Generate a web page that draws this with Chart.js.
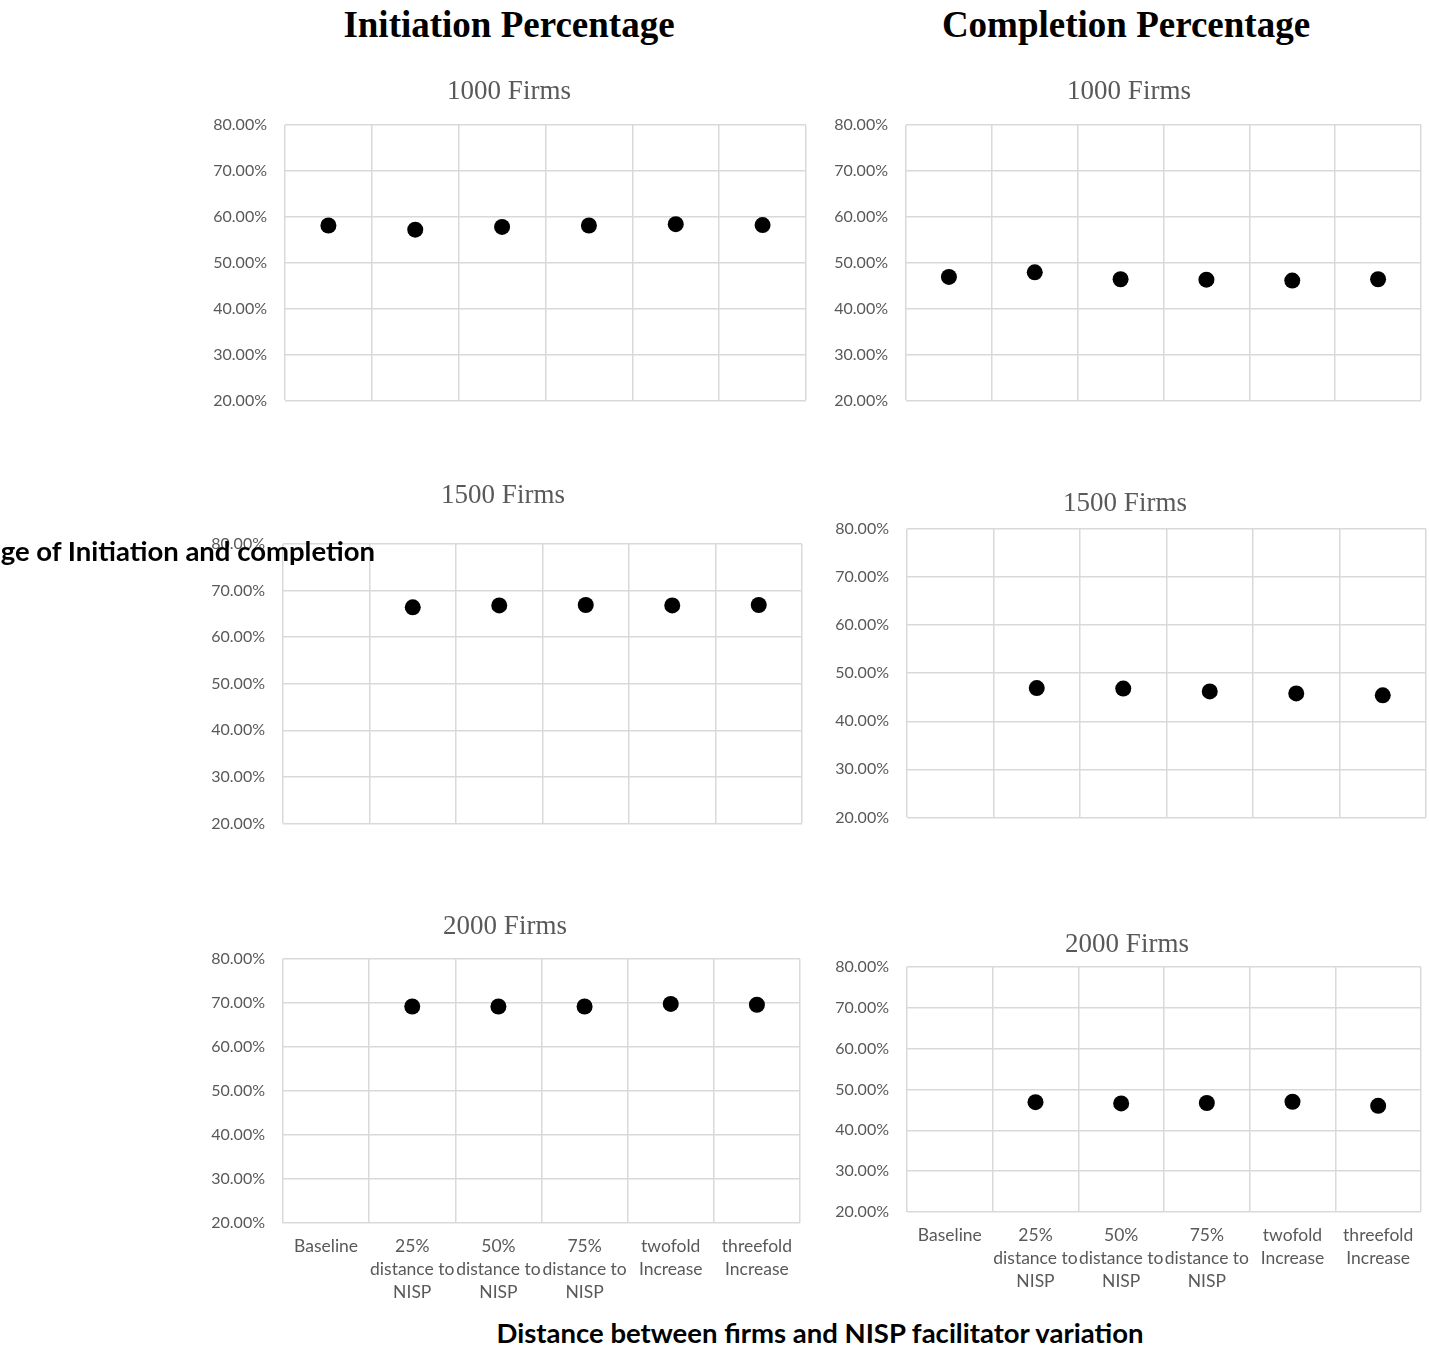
<!DOCTYPE html>
<html>
<head>
<meta charset="utf-8">
<script src="https://cdn.jsdelivr.net/npm/chart.js@4/dist/chart.umd.min.js"></script>
<style>
  html, body { margin: 0; padding: 0; background: #ffffff; }
  body { position: relative; width: 1429px; height: 1348px; overflow: hidden; }
  .panel { position: absolute; }
  .heading {
    position: absolute; font-family: "Liberation Serif", "Times New Roman", serif;
    font-weight: bold; font-size: 37px; color: #000; white-space: nowrap;
    transform: translate(-50%, -50%);
  }
  .axis-title {
    position: absolute; font-family: Lato, "Open Sans", sans-serif;
    font-weight: bold; font-size: 27.5px; color: #000; white-space: nowrap; z-index: 5;
    line-height: 32px;
  }
</style>
</head>
<body>
<div class="heading" style="left:509px; top:24px;">Initiation Percentage</div>
<div class="heading" style="left:1126px; top:24px;">Completion Percentage</div>
<div class="axis-title" style="right:1054px; top:535px;">Percentage of Initiation and completion</div>
<div class="axis-title" style="left:820px; top:1317px; transform: translateX(-50%);">Distance between firms and NISP facilitator variation</div>

<script>
// Scenario categories along the horizontal axis (multi-line tick labels)
const categories = [
  ["Baseline"],
  ["25%", "distance to", "NISP"],
  ["50%", "distance to", "NISP"],
  ["75%", "distance to", "NISP"],
  ["twofold", "Increase"],
  ["threefold", "Increase"]
];

// Percentages per scenario (null = scenario not simulated)
const initiation1000 = [58.1, 57.2, 57.8, 58.1, 58.4, 58.2];
const completion1000 = [46.9, 47.9, 46.4, 46.3, 46.1, 46.4];
const initiation1500 = [null, 66.4, 66.8, 66.9, 66.8, 66.9];
const completion1500 = [null, 46.9, 46.8, 46.2, 45.8, 45.4];
const initiation2000 = [null, 69.2, 69.2, 69.2, 69.8, 69.6];
const completion2000 = [null, 46.9, 46.6, 46.7, 47.0, 46.0];

// Value axis range
const yMin = 20, yMax = 80, yStep = 10;

const panelTitles = ["1000 Firms", "1000 Firms", "1500 Firms", "1500 Firms", "2000 Firms", "2000 Firms"];

// Layout of each small chart: plot box edges, title centre, whether category labels show
const panels = [
  { data: initiation1000, title: panelTitles[0], left: 285, right: 806, top: 125, bottom: 399, tx: 509, ty: 92, labels: false },
  { data: completion1000, title: panelTitles[1], left: 906, right: 1421, top: 125, bottom: 399, tx: 1129, ty: 92, labels: false },
  { data: initiation1500, title: panelTitles[2], left: 283, right: 802, top: 544, bottom: 822, tx: 503, ty: 496, labels: false },
  { data: completion1500, title: panelTitles[3], left: 907, right: 1426, top: 529, bottom: 816, tx: 1125, ty: 504, labels: false },
  { data: initiation2000, title: panelTitles[4], left: 283, right: 800, top: 959, bottom: 1223, tx: 505, ty: 927, labels: true },
  { data: completion2000, title: panelTitles[5], left: 907, right: 1421, top: 967, bottom: 1212, tx: 1127, ty: 945, labels: true }
];

const GRID = '#d9d9d9';
const TEXT = '#595959';
const TITLE_SIZE = 27;
const TITLE_LH = TITLE_SIZE * 1.2;
const TITLE_PAD_TOP = 8;

panels.forEach((p) => {
  // canvas is centred on the panel title; the plot keeps a small right margin
  const canvasRight = p.right + 8;
  const canvasLeft = 2 * p.tx - canvasRight;
  const width = canvasRight - canvasLeft;
  const canvasTop = Math.round(p.ty - TITLE_PAD_TOP - TITLE_LH / 2);
  const titlePadBottom = p.top - canvasTop - TITLE_PAD_TOP - TITLE_LH;
  const xHeight = p.labels ? 90 : 14;
  // space under the plot: tick-label block for the bottom row, a thin margin otherwise
  const below = p.labels ? 90 : 29;
  const height = p.bottom + below - canvasTop;
  const yWidth = p.left - canvasLeft;

  const wrap = document.createElement('div');
  wrap.className = 'panel';
  wrap.style.left = canvasLeft + 'px';
  wrap.style.top = canvasTop + 'px';
  wrap.style.width = width + 'px';
  wrap.style.height = height + 'px';
  const canvas = document.createElement('canvas');
  wrap.appendChild(canvas);
  document.body.appendChild(wrap);

  new Chart(canvas, {
    type: 'line',
    data: {
      labels: categories,
      datasets: [{
        data: p.data,
        showLine: false,
        pointRadius: 8,
        pointHoverRadius: 8,
        pointBackgroundColor: '#000000',
        pointBorderWidth: 0,
        borderColor: '#000000'
      }]
    },
    options: {
      responsive: true,
      maintainAspectRatio: false,
      animation: false,
      events: [],
      layout: { padding: 0 },
      plugins: {
        legend: { display: false },
        tooltip: { enabled: false },
        title: {
          display: true,
          text: p.title,
          color: TEXT,
          font: { family: '"Liberation Serif", "Times New Roman", serif', size: TITLE_SIZE, weight: 'normal', lineHeight: 1.2 },
          padding: { top: TITLE_PAD_TOP, bottom: titlePadBottom }
        }
      },
      scales: {
        x: {
          type: 'category',
          offset: true,
          grid: { offset: true, color: GRID, lineWidth: 1.5, drawTicks: false },
          border: { display: false },
          ticks: {
            autoSkip: false,
            maxRotation: 0,
            minRotation: 0,
            padding: 12,
            color: TEXT,
            font: { family: 'Lato, "Open Sans", sans-serif', size: 17.5, lineHeight: 1.32 },
            // only the bottom row of charts names the scenarios
            callback: function (v) { return p.labels ? this.getLabelForValue(v) : ''; }
          },
          afterFit: (s) => { s.height = xHeight; }
        },
        y: {
          min: yMin,
          max: yMax,
          grid: { color: GRID, lineWidth: 1.5, drawTicks: false },
          border: { display: false },
          ticks: {
            stepSize: yStep,
            padding: 18,
            color: TEXT,
            font: { family: 'Lato, "Open Sans", sans-serif', size: 16 },
            callback: (v) => v.toFixed(2) + '%'
          },
          afterFit: (s) => { s.width = yWidth; }
        }
      }
    }
  });
});
</script>
</body>
</html>
